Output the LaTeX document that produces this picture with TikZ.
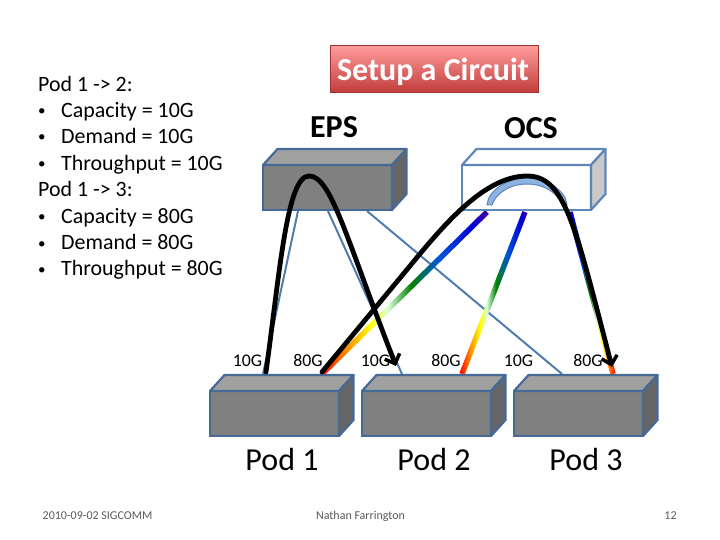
\documentclass[tikz,border=0pt]{standalone}
\usepackage{fontspec}
\setmainfont{Carlito}
\usetikzlibrary{calc,arrows.meta}
\definecolor{edgeA}{HTML}{456A95}
\definecolor{edgeB}{HTML}{5F86B8}
\definecolor{lnk}{HTML}{4F7DAE}
\definecolor{frontG}{HTML}{808080}
\definecolor{topG}{HTML}{A0A0A0}
\definecolor{sideG}{HTML}{666666}
\definecolor{sideL}{HTML}{C8C8C8}
\definecolor{arcF}{HTML}{8DB3E2}
\definecolor{titleT}{HTML}{FF9C9A}
\definecolor{titleB}{HTML}{BF3B3B}
\pgfdeclarehorizontalshading{rainbowline}{100bp}{
 color(0bp)=(black!20!blue!60!purple);
 color(25bp)=(black!20!blue!60!purple);
 color(30bp)=(blue!85!black);
 color(40bp)=(blue!60!cyan!85!black);
 color(48bp)=(green!50!black);
 color(55bp)=(green!15!white);
 color(60bp)=(yellow);
 color(68bp)=(orange);
 color(75bp)=(red);
 color(100bp)=(red)}
\pgfdeclareverticalshading{titleshade}{100bp}{
 color(0bp)=(titleB); color(25bp)=(titleB); color(75bp)=(titleT); color(100bp)=(titleT)}
\tikzset{
 frontbox/.style={draw=#1,line width=2.2pt,minimum width=129pt,minimum height=45pt,inner sep=0pt,outer sep=0pt,anchor=north west},
 linkline/.style={draw=lnk,line width=2pt},
 flowline/.style={draw=black,line width=4.8pt,line cap=round},
 flowarrow/.style={flowline,-{Straight Barb[length=8pt,width=16pt,line width=3.5pt]}},
 body/.style={font=\fontsize{21.9}{24}\selectfont,anchor=base west,inner sep=0pt},
 bulletmark/.style={font=\fontsize{15}{16}\selectfont,anchor=base west,inner sep=0pt},
 rate/.style={font=\fontsize{17.8}{19}\selectfont,inner sep=0pt,anchor=base},
 podname/.style={font=\fontsize{32}{34}\selectfont,inner sep=0pt},
 switchname/.style={font=\bfseries\fontsize{32}{34}\selectfont,inner sep=0pt},
 foot/.style={font=\fontsize{12}{14}\selectfont,text=black!65,inner sep=0pt,anchor=base}
}
\newcommand{\threedbox}[7]{% name, x, y, edge, front, top, side
 \node[frontbox=#4,fill=#5] (#1) at (#2,#3) {};
 \draw[draw=#4,line width=2.2pt,fill=#6,line join=round] (#1.north west) -- ++(14.5,-16) -- ++(129,0) -- (#1.north east) -- cycle;
 \draw[draw=#4,line width=2.2pt,fill=#7,line join=round] (#1.north east) -- ++(14.5,-16) -- ++(0,45) -- (#1.south east) -- cycle;
}
\newcommand{\rainbowlink}[4]{% name, from, to, shading angle
 \path let \p1=($(#3)-(#2)$), \n1={atan2(\y1,\x1)}, \n2={veclen(\x1,\y1)} in
  node[shade,shading=rainbowline,shading angle=#4,rotate=\n1,anchor=west,minimum width=\n2,minimum height=5.5pt,inner sep=0pt,outer sep=0pt] (#1) at (#2) {};
}
\begin{document}
\begin{tikzpicture}[x=1pt,y=-1pt]
\useasboundingbox (0,0) rectangle (720,540);
% end points
\coordinate (epsA) at (298,211);
\coordinate (epsB) at (328,211);
\coordinate (epsC) at (367,211);
\coordinate (ocsA) at (487,212);
\coordinate (ocsB) at (525,212);
\coordinate (ocsC) at (570,212);
\coordinate (p1a) at (263,374);
\coordinate (p1b) at (322,374);
\coordinate (p2a) at (402,374);
\coordinate (p2b) at (462,374);
\coordinate (p3a) at (562,374);
\coordinate (p3b) at (613,374);
\coordinate (flowAs) at (266,372);
\coordinate (flowAe) at (396,366);
\coordinate (flowBs) at (322,372);
\coordinate (flowBe) at (612,367);
% links
\draw[linkline] (epsA) -- (p1a);
\draw[linkline] (epsB) -- (p2a);
\draw[linkline] (epsC) -- (p3a);
\rainbowlink{rbA}{ocsA}{p1b}{180}
\rainbowlink{rbB}{ocsB}{p2b}{180}
\rainbowlink{rbC}{ocsC}{p3b}{0}
% switches
\threedbox{eps}{263}{165}{edgeA}{frontG}{topG}{sideG}
\threedbox{ocs}{462}{165}{edgeB}{white}{white}{sideL}
\threedbox{podA}{210}{391}{edgeA}{frontG}{topG}{sideG}
\threedbox{podB}{362}{391}{edgeA}{frontG}{topG}{sideG}
\threedbox{podC}{514}{391}{edgeA}{frontG}{topG}{sideG}
% OCS arc
\draw[draw=edgeB,line width=1pt,fill=arcF] (487,205) .. controls (488,190) and (508,178) .. (527,178) .. controls (546,178) and (566,190) .. (567,205) -- (562,205) .. controls (558,193) and (544,184) .. (527,184) .. controls (510,184) and (496,193) .. (492,205) -- cycle;
% text
\node[body] (t1) at (38,91.5) {Pod 1 -> 2:};
\node[bulletmark] (t2) at (38,116) {•};
\node[body] (t2b) at (61,117.5) {Capacity = 10G};
\node[bulletmark] (t3) at (38,142) {•};
\node[body] (t3b) at (61,143.5) {Demand = 10G};
\node[bulletmark] (t4) at (38,169) {•};
\node[body] (t4b) at (61,170.5) {Throughput = 10G};
\node[body] (t5) at (38,196.5) {Pod 1 -> 3:};
\node[bulletmark] (t6) at (38,222) {•};
\node[body] (t6b) at (61,223.5) {Capacity = 80G};
\node[bulletmark] (t7) at (38,248) {•};
\node[body] (t7b) at (61,249.5) {Demand = 80G};
\node[bulletmark] (t8) at (38,274) {•};
\node[body] (t8b) at (61,275.5) {Throughput = 80G};
\node[draw=titleB!85!black,line width=1pt,shade,shading=titleshade,minimum width=208pt,minimum height=47pt,inner sep=0pt] (title) at (434.5,69.5) {};
\node[font=\bfseries\fontsize{32}{34}\selectfont,text=white,inner sep=0pt] (titletext) at (433,71.5) {Setup a Circuit};
\node[switchname] (epsl) at (334,127) {EPS};
\node[switchname] (ocsl) at (531,128) {OCS};
\node[rate] (r1) at (247.5,366) {10G};
\node[rate] (r2) at (308,366) {80G};
\node[rate] (r3) at (375.5,366) {10G};
\node[rate] (r4) at (446,366) {80G};
\node[rate] (r5) at (518.5,366) {10G};
\node[rate] (r6) at (588,366) {80G};
\node[podname] (n1) at (282,459) {Pod 1};
\node[podname] (n2) at (434,459) {Pod 2};
\node[podname] (n3) at (586,459) {Pod 3};
\node[foot] (f1) at (97.5,519) {2010-09-02 SIGCOMM};
\node[foot] (f2) at (360.5,519) {Nathan Farrington};
\node[foot] (f3) at (670.5,519) {12};
% flows
\draw[flowarrow] (flowAs) .. controls (280,270) and (287,176) .. (309,176) .. controls (331,176) and (345,235) .. (flowAe);
\draw[flowarrow] (flowBs) -- (400,278) .. controls (435,236) and (480,176) .. (527,176) .. controls (565,176) and (575,225) .. (flowBe);
\end{tikzpicture}
\end{document}
